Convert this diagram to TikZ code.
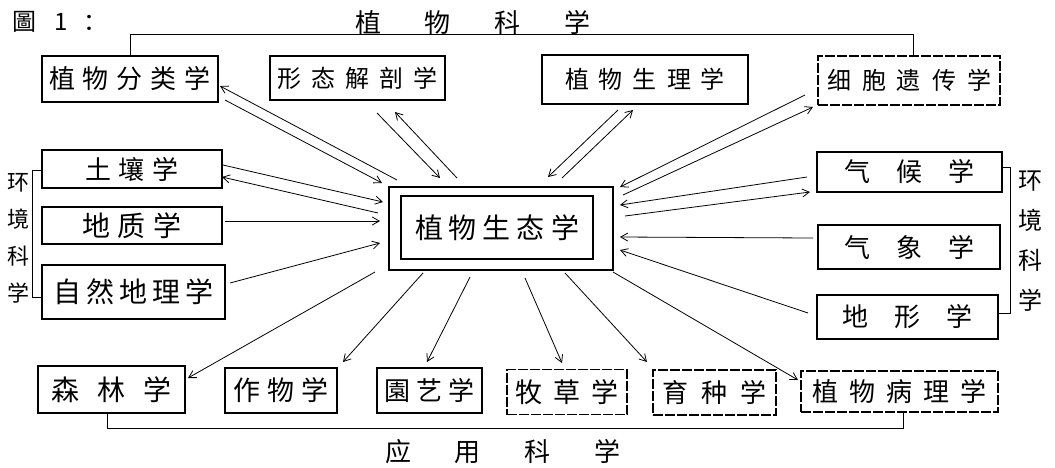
\documentclass[tikz,border=0pt]{standalone}
\usepackage{fontspec}
\newfontfamily\cjk{Noto Sans CJK SC}
\usetikzlibrary{arrows.meta,calc}
\makeatletter
\newcommand\lsp[2]{\begingroup\def\lsp@sep{}\@tfor\lsp@c:=#2\do{\lsp@sep\lsp@c\def\lsp@sep{\hspace{#1}}}\endgroup}
\makeatother
\newcommand\fs[1]{\cjk\fontsize{#1}{#1}\selectfont}
\begin{document}
\begin{tikzpicture}[x=1pt,y=-1pt,
  bx/.style={draw, line width=1.1pt, inner sep=0pt},
  dbx/.style={bx, dash pattern=on 10pt off 2pt},
  arr/.style={-{Straight Barb[length=7pt,width=8pt]}, line width=0.8pt},
  br/.style={line width=0.9pt},
  lbl/.style={inner sep=0pt}]
\useasboundingbox (0,0) rectangle (1055,467);

% titles
\node[lbl, anchor=west, font=\fs{24}] (fig) at (12,22) {圖\hspace{18pt}1\hspace{16pt}：};
\node[lbl, font=\fs{26}] (top) at (473,22) {\lsp{44pt}{植物科学}};
\node[lbl, font=\fs{26}] (bottom) at (503,452) {\lsp{44pt}{应用科学}};
\node[lbl, align=center, font=\cjk\fontsize{22}{37}\selectfont] (envL) at (18,238) {环\\境\\科\\学};
\node[lbl, align=center, font=\cjk\fontsize{24}{40}\selectfont] (envR) at (1030,241) {环\\境\\科\\学};

% top row
\node[bx, minimum width=176pt, minimum height=46pt, font=\fs{26}] (tax) at (130,79) {\lsp{8pt}{植物分类学}};
\node[bx, minimum width=175pt, minimum height=44pt, font=\fs{24}] (morph) at (357.5,78) {\lsp{10pt}{形态解剖学}};
\node[bx, minimum width=206pt, minimum height=49pt, font=\fs{24}] (phys) at (645,79.5) {\lsp{10pt}{植物生理学}};
\node[dbx, minimum width=182pt, minimum height=49pt, font=\fs{24}] (gen) at (909,80.5) {\lsp{11pt}{细胞遗传学}};

% center
\node[bx, line width=1.4pt, minimum width=224pt, minimum height=83pt] (ecoO) at (501,228.5) {};
\node[bx, line width=1.4pt, minimum width=192pt, minimum height=63pt, font=\fs{28}] (eco) at (497,227.5) {\lsp{6pt}{植物生态学}};

% left column
\node[bx, minimum width=180pt, minimum height=38pt, font=\fs{26}] (soil) at (132,169) {\lsp{8pt}{土壤学}};
\node[bx, minimum width=180pt, minimum height=37pt, font=\fs{28}] (geol) at (132,225.5) {\lsp{8pt}{地质学}};
\node[bx, minimum width=183pt, minimum height=54pt, font=\fs{28}] (pgeo) at (133.5,292) {\lsp{5pt}{自然地理学}};

% right column
\node[bx, minimum width=185pt, minimum height=40pt, font=\fs{26}] (clim) at (909.5,172) {\lsp{26pt}{气候学}};
\node[bx, minimum width=182pt, minimum height=44pt, font=\fs{26}] (meteo) at (909,247) {\lsp{26pt}{气象学}};
\node[bx, minimum width=181pt, minimum height=44pt, font=\fs{26}] (topo) at (907.5,317) {\lsp{26pt}{地形学}};

% bottom row
\node[bx, minimum width=147pt, minimum height=47pt, font=\fs{28}] (forest) at (111.5,389.5) {\lsp{18pt}{森林学}};
\node[bx, minimum width=112pt, minimum height=45pt, font=\fs{27}] (crop) at (281,390.5) {\lsp{7pt}{作物学}};
\node[bx, minimum width=105pt, minimum height=45pt, font=\fs{26}] (hort) at (429.5,390.5) {\lsp{6pt}{園艺学}};
\node[dbx, minimum width=120pt, minimum height=45pt, font=\fs{27}] (past) at (567,392) {\lsp{11pt}{牧草学}};
\node[dbx, minimum width=123pt, minimum height=45pt, font=\fs{26}] (breed) at (714.5,392.5) {\lsp{13pt}{育种学}};
\node[dbx, minimum width=197pt, minimum height=41pt, font=\fs{26}] (pathol) at (899.5,391.5) {\lsp{11pt}{植物病理学}};

% brackets
\draw[br] (tax.north) -- ++(0,-21) -| ($(gen.north)+(4,0)$);
\draw[br] ($(soil.west)+(0,1)$) -- ++(-9,0) |- ($(pgeo.west)+(0,5)$);
\draw[br] ($(clim.east)+(0,-5)$) -- ++(8,0) |- ($(topo.east)+(0,-4)$);
\draw[br] ($(forest.south)+(-4,0)$) -- ++(0,15) -| ($(pathol.south)+(4,0)$);

% arrows
\draw[arr] ($(ecoO)+(-104,-48.5)$) -- ($(tax)+(90,7)$);
\draw[arr] ($(tax)+(95,21)$) -- ($(ecoO)+(-119,-45.5)$);
\draw[arr] ($(morph)+(19.5,35)$) -- ($(ecoO)+(-61,-50.5)$);
\draw[arr] ($(ecoO)+(-44,-50.5)$) -- ($(morph)+(37.5,34)$);
\draw[arr] ($(phys)+(-27,30.5)$) -- ($(ecoO)+(47,-51.5)$);
\draw[arr] ($(ecoO)+(61,-50.5)$) -- ($(phys)+(-12,30.5)$);
\draw[arr] ($(gen)+(-104,14.5)$) -- ($(ecoO)+(119,-41.5)$);
\draw[arr] ($(ecoO)+(122,-33.5)$) -- ($(gen)+(-96,26.5)$);
\draw[arr] ($(clim)+(-102.5,5)$) -- ($(ecoO)+(119,-23.5)$);
\draw[arr] ($(ecoO)+(124,-12.5)$) -- ($(clim)+(-99.5,20)$);
\draw[arr] ($(meteo)+(-96,-9)$) -- ($(ecoO)+(119,8.5)$);
\draw[arr] ($(topo)+(-99.5,-4)$) -- ($(ecoO)+(119,21.5)$);
\draw[arr] ($(soil)+(91,-4)$) -- ($(ecoO)+(-118,-26.5)$);
\draw[arr] ($(ecoO)+(-123,-15.5)$) -- ($(soil)+(90,8)$);
\draw[arr] ($(geol)+(93,-4.5)$) -- ($(ecoO)+(-121,-7.5)$);
\draw[arr] ($(pgeo)+(96.5,-9)$) -- ($(ecoO)+(-121,14.5)$);
\draw[arr] ($(ecoO)+(-126,43.5)$) -- ($(forest)+(76.5,-11.5)$);
\draw[arr] ($(ecoO)+(-78,44.5)$) -- ($(crop)+(62,-28.5)$);
\draw[arr] ($(ecoO)+(-31,48.5)$) -- ($(hort)+(-2.5,-28.5)$);
\draw[arr] ($(ecoO)+(24,49.5)$) -- ($(past)+(-5,-29)$);
\draw[arr] ($(ecoO)+(64,44.5)$) -- ($(breed)+(-67.5,-30.5)$);
\draw[arr] ($(ecoO)+(112,43.5)$) -- ($(pathol)+(-101.5,-11.5)$);
\end{tikzpicture}
\end{document}
